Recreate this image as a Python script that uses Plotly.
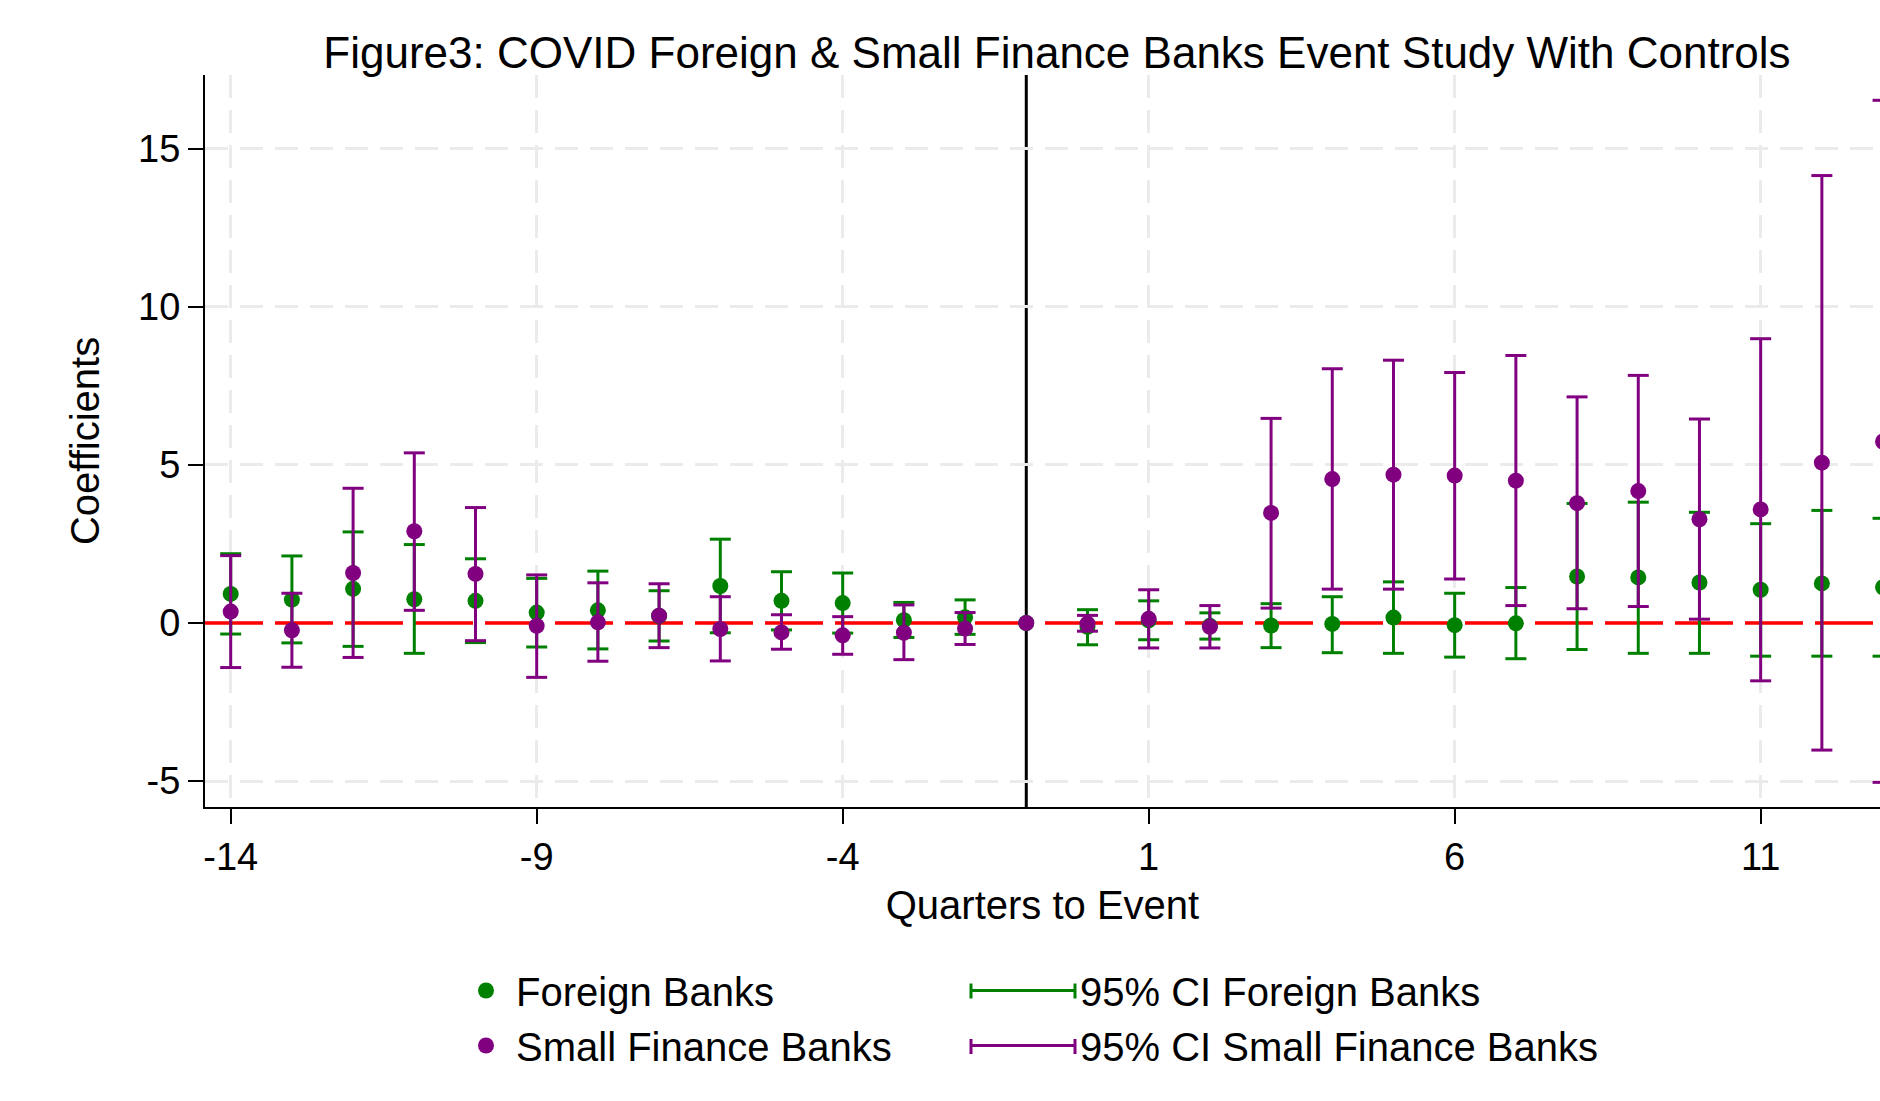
import plotly.graph_objects as go

# ---------------- data ----------------
quarters = list(range(-14, 14))

foreign_coef = [0.92, 0.74, 1.08, 0.75, 0.70, 0.33, 0.40, 0.22, 1.17, 0.70, 0.63, 0.09, 0.18, 0.0,
                -0.12, 0.08, -0.09, -0.08, -0.03, 0.17, -0.07, -0.01, 1.47, 1.44, 1.28, 1.05, 1.25, 1.13]
foreign_lo = [-0.35, -0.63, -0.74, -0.96, -0.62, -0.76, -0.82, -0.57, -0.31, -0.22, -0.32, -0.46, -0.36, None,
              -0.69, -0.53, -0.51, -0.78, -0.94, -0.96, -1.08, -1.13, -0.84, -0.96, -0.96, -1.05, -1.05, -1.05]
foreign_hi = [2.19, 2.12, 2.88, 2.48, 2.03, 1.41, 1.64, 1.02, 2.65, 1.62, 1.58, 0.65, 0.73, None,
              0.42, 0.70, 0.32, 0.61, 0.83, 1.30, 0.94, 1.12, 3.78, 3.82, 3.50, 3.14, 3.56, 3.31]

sfb_coef = [0.36, -0.23, 1.58, 2.90, 1.55, -0.09, 0.02, 0.23, -0.19, -0.30, -0.39, -0.31, -0.18, 0.0,
            -0.02, 0.13, -0.12, 3.48, 4.55, 4.69, 4.66, 4.50, 3.79, 4.17, 3.28, 3.59, 5.07, 5.74]
sfb_lo = [-1.41, -1.40, -1.09, 0.40, -0.56, -1.72, -1.21, -0.78, -1.20, -0.83, -0.99, -1.16, -0.68, None,
          -0.26, -0.79, -0.79, 0.47, 1.07, 1.07, 1.39, 0.55, 0.45, 0.52, 0.12, -1.83, -4.02, -5.04]
sfb_hi = [2.13, 0.94, 4.26, 5.38, 3.65, 1.52, 1.27, 1.24, 0.83, 0.26, 0.20, 0.57, 0.33, None,
          0.24, 1.05, 0.55, 6.47, 8.04, 8.31, 7.92, 8.46, 7.15, 7.83, 6.45, 8.99, 14.15, 16.53]

series_names = ["Foreign Banks", "Small Finance Banks"]
ci_names = ["95% CI Foreign Banks", "95% CI Small Finance Banks"]

x_tick_values = [-14, -9, -4, 1, 6, 11]
x_tick_labels = ["-14", "-9", "-4", "1", "6", "11"]
y_tick_values = [-5, 0, 5, 10, 15]
y_tick_labels = ["-5", "0", "5", "10", "15"]
event_line_x = -1
x_range = [-14.42, 12.95]
y_range = [-5.82, 17.33]

# ---------------- styling ----------------
GREEN = "#008000"
PURPLE = "#800080"
FONT = "Liberation Sans, Arial, Helvetica, sans-serif"
W, H = 1880, 1101
ML, MR, MT, MB = 205, 0, 75, 294
PW, PH = W - ML - MR, H - MT - MB


def px_x(px):
    return (px - ML) / PW


def px_y(py):
    return (H - MB - py) / PH


def ci_segments(xs, lo, hi):
    sx, sy = [], []
    for xv, l, h in zip(xs, lo, hi):
        if l is None or h is None:
            continue
        sx += [xv, xv, None]
        sy += [l, h, None]
    return sx, sy


fig = go.Figure()

# red dashed zero line (under the markers, above the grid)
fig.add_trace(go.Scatter(
    x=x_range, y=[0, 0], mode="lines", showlegend=False, hoverinfo="skip",
    line=dict(color="#ff0000", width=3.5, dash="58px,12px"),
))

for name, ci_name, coef, lo, hi, col in [
    (series_names[0], ci_names[0], foreign_coef, foreign_lo, foreign_hi, GREEN),
    (series_names[1], ci_names[1], sfb_coef, sfb_lo, sfb_hi, PURPLE),
]:
    fig.add_trace(go.Scatter(
        x=quarters, y=coef, mode="markers", name=name, legend="legend",
        marker=dict(color=col, size=16, symbol="circle", line=dict(width=0)),
    ))
    sx, sy = ci_segments(quarters, lo, hi)
    fig.add_trace(go.Scatter(
        x=sx, y=sy, mode="lines+markers", name=ci_name, legend="legend2",
        line=dict(color=col, width=3),
        marker=dict(symbol="line-ew", size=15, color=col, line=dict(color=col, width=3)),
    ))

# vertical event line
fig.add_shape(type="line", xref="x", yref="paper", x0=event_line_x, x1=event_line_x, y0=0, y1=1,
              line=dict(color="black", width=3), layer="between")

# end caps for the CI legend glyphs
leg2_x0, leg2_w = 966, 104
row_centers = [991, 1046.5]
for rc, col in zip(row_centers, [GREEN, PURPLE]):
    for cx in [leg2_x0 + 5, leg2_x0 + 5 + leg2_w]:
        fig.add_shape(type="line", xref="paper", yref="paper",
                      x0=px_x(cx), x1=px_x(cx), y0=px_y(rc - 7.5), y1=px_y(rc + 7.5),
                      line=dict(color=col, width=3), layer="above")

axis_common = dict(
    showline=True, linecolor="black", linewidth=2,
    ticks="outside", ticklen=15, tickwidth=2, tickcolor="black",
    showgrid=True, gridcolor="#ebebeb", gridwidth=2.5, griddash="23px,12px",
    zeroline=False, tickfont=dict(size=38, color="black", family=FONT),
    mirror=False, tickmode="array",
)

fig.update_layout(
    width=W, height=H, autosize=False,
    margin=dict(l=ML, r=MR, t=MT, b=MB, autoexpand=False),
    paper_bgcolor="white", plot_bgcolor="white",
    font=dict(family=FONT, color="black"),
    title=dict(text="Figure3: COVID Foreign & Small Finance Banks Event Study With Controls",
               font=dict(size=44, color="black", family=FONT),
               x=1057 / W, xanchor="center", xref="container",
               y=1 - 53 / H, yanchor="middle", yref="container"),
    xaxis=dict(range=x_range, tickvals=x_tick_values, ticktext=x_tick_labels,
               title=dict(text="Quarters to Event", font=dict(size=40, family=FONT), standoff=14),
               **axis_common),
    yaxis=dict(range=y_range, tickvals=y_tick_values, ticktext=y_tick_labels,
               title=dict(text="Coefficients", font=dict(size=40, family=FONT), standoff=26),
               ticklabelstandoff=0,
               **axis_common),
    showlegend=True,
    legend=dict(x=px_x(456), xanchor="left", y=px_y(958), yanchor="top",
                orientation="v", itemwidth=50, font=dict(size=40, family=FONT, color="black"),
                bgcolor="rgba(0,0,0,0)", tracegroupgap=0, traceorder="normal"),
    legend2=dict(x=px_x(leg2_x0), xanchor="left", y=px_y(958), yanchor="top",
                 orientation="v", itemwidth=leg2_w, font=dict(size=40, family=FONT, color="black"),
                 bgcolor="rgba(0,0,0,0)", tracegroupgap=0, traceorder="normal"),
)

fig.write_html("out.html")
